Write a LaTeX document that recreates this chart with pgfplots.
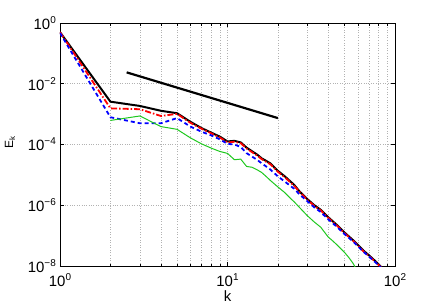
\documentclass[border=0pt]{standalone}
\usepackage{fontspec}
\setmainfont{Liberation Sans}
\usepackage{pgfplots}
\pgfplotsset{compat=1.18}
\definecolor{mgreen}{RGB}{30,200,30}
\newcommand{\sups}[1]{\raisebox{6bp}{\fontsize{10}{10}\selectfont #1}}
\begin{document}
\fontsize{15}{17}\selectfont
\begin{tikzpicture}
\begin{axis}[
  at={(0,0)}, anchor=south west,
  scale only axis, width=335bp, height=243bp,
  xmode=log, ymode=log,
  xmin=1, xmax=100, ymin=1e-8, ymax=1,
  xtick={1,10,100},
  xticklabels={10\sups{0},10\sups{1},10\sups{2}},
  ytick={1e-8,1e-6,1e-4,1e-2,1},
  yticklabels={10\sups{−8},10\sups{−6},10\sups{−4},10\sups{−2},10\sups{0}},
  minor ytick={},
  xmajorgrids=false, xminorgrids, ymajorgrids,
  grid style={gray!60, dotted, line width=0.6pt},
  minor grid style={gray!60, dotted, line width=0.6pt},
  tick align=inside,
  ticklabel style={font=\fontsize{15}{17}\selectfont},
  yticklabel style={xshift=1bp},
  xticklabel style={yshift=-2bp},
  major tick length=4bp, minor tick length=2.5bp,
  tick style={line width=0.6pt, black},
  axis line style={line width=1pt},
  xlabel={k}, ylabel={E\textsubscript{k}},
  every axis x label/.style={at={(rel axis cs:0.5,0)}, anchor=center, yshift=-30bp, font=\fontsize{15}{17}\selectfont},
  every axis y label/.style={at={(rel axis cs:0,0.5)}, anchor=center, xshift=-50bp, yshift=2bp, rotate=90, font=\fontsize{12}{14}\selectfont},
  clip=true,
]
% black
\addplot[black, line width=2pt] coordinates {
(1,0.50)(2,2.57e-3)(3,1.86e-3)(4,1.29e-3)(5,1.07e-3)(6,5.6e-4)(7,3.47e-4)(8,2.45e-4)(9,1.82e-4)(10,1.26e-4)
(11,1.32e-4)(12,1.17e-4)(13,7.9e-5)(14,6.0e-5)(15,4.7e-5)(16,3.5e-5)(17,2.9e-5)(18,2.4e-5)(20,1.35e-5)
(22,8.9e-6)(25,4.7e-6)(27,2.8e-6)(30,1.58e-6)(33,1.0e-6)(36,7.1e-7)(40,4.0e-7)(45,2.24e-7)(50,1.26e-7)
(56,7.2e-8)(60,5.0e-8)(65,3.16e-8)(70,2.24e-8)(75,1.58e-8)(80,1.12e-8)(85,7.9e-9)};
% red dash-dot
\addplot[red, line width=1.8pt, dash pattern=on 6bp off 2bp on 1.5bp off 2bp] coordinates {
(1,0.50)(2,1.55e-3)(3,1.45e-3)(4,8.7e-4)(5,1.02e-3)(6,5.2e-4)(7,3.3e-4)(8,2.34e-4)(9,1.7e-4)(10,1.17e-4)
(11,1.23e-4)(12,1.1e-4)(13,7.4e-5)(14,5.6e-5)(15,4.4e-5)(16,3.3e-5)(17,2.7e-5)(18,2.24e-5)(20,1.26e-5)
(22,8.3e-6)(25,4.4e-6)(27,2.7e-6)(30,1.51e-6)(33,9.5e-7)(36,6.8e-7)(40,3.8e-7)(45,2.14e-7)(50,1.2e-7)
(56,6.9e-8)(60,4.8e-8)(65,3.0e-8)(70,2.14e-8)(75,1.51e-8)(80,1.07e-8)(85,7.6e-9)};
% blue dashed
\addplot[blue, line width=1.8pt, dash pattern=on 4bp off 3bp] coordinates {
(1,0.47)(2,7.9e-4)(3,5.0e-4)(4,5.0e-4)(5,7.4e-4)(6,3.9e-4)(7,2.63e-4)(8,2.0e-4)(9,1.48e-4)(10,1.05e-4)
(11,1.0e-4)(12,8.3e-5)(13,5.2e-5)(14,4.0e-5)(15,3.16e-5)(16,2.4e-5)(17,1.9e-5)(18,1.51e-5)(20,8.9e-6)
(22,6.0e-6)(25,3.5e-6)(27,2.24e-6)(30,1.35e-6)(33,8.5e-7)(36,6.0e-7)(40,3.4e-7)(45,1.95e-7)(50,1.12e-7)
(56,6.5e-8)(60,4.5e-8)(65,2.9e-8)(70,2.04e-8)(75,1.45e-8)(80,1.05e-8)(85,7.4e-9)};
% green
\addplot[mgreen, line width=1pt] coordinates {
(2,6.2e-4)(3,8.7e-4)(4,3.9e-4)(5,3.16e-4)(6,1.66e-4)(7,1.05e-4)(8,7.6e-5)(9,5.9e-5)(10,5.1e-5)
(11,3.16e-5)(12,3.3e-5)(13,1.9e-5)(14,1.78e-5)(15,1.48e-5)(16,1.2e-5)(17,8.9e-6)(18,6.6e-6)(20,4.0e-6)
(22,2.6e-6)(24,1.6e-6)(25,1.3e-6)(27,8.3e-7)(30,4.5e-7)(33,2.8e-7)(36,1.9e-7)(40,8.9e-8)(42,7.1e-8)
(45,5.0e-8)(48,3.5e-8)(50,2.8e-8)(53,1.9e-8)(56,1.26e-8)(58,8.9e-9)};
% reference slope
\addplot[black, line width=2.2pt] coordinates {(2.5,2.37e-2)(20,7.4e-4)};
\node[anchor=center, font=\fontsize{15}{17}\selectfont] at (rel axis cs:1.045,0.94) {(b)};
\end{axis}
\useasboundingbox (-60bp,-40bp) rectangle (376bp,266bp);
\end{tikzpicture}
\end{document}
